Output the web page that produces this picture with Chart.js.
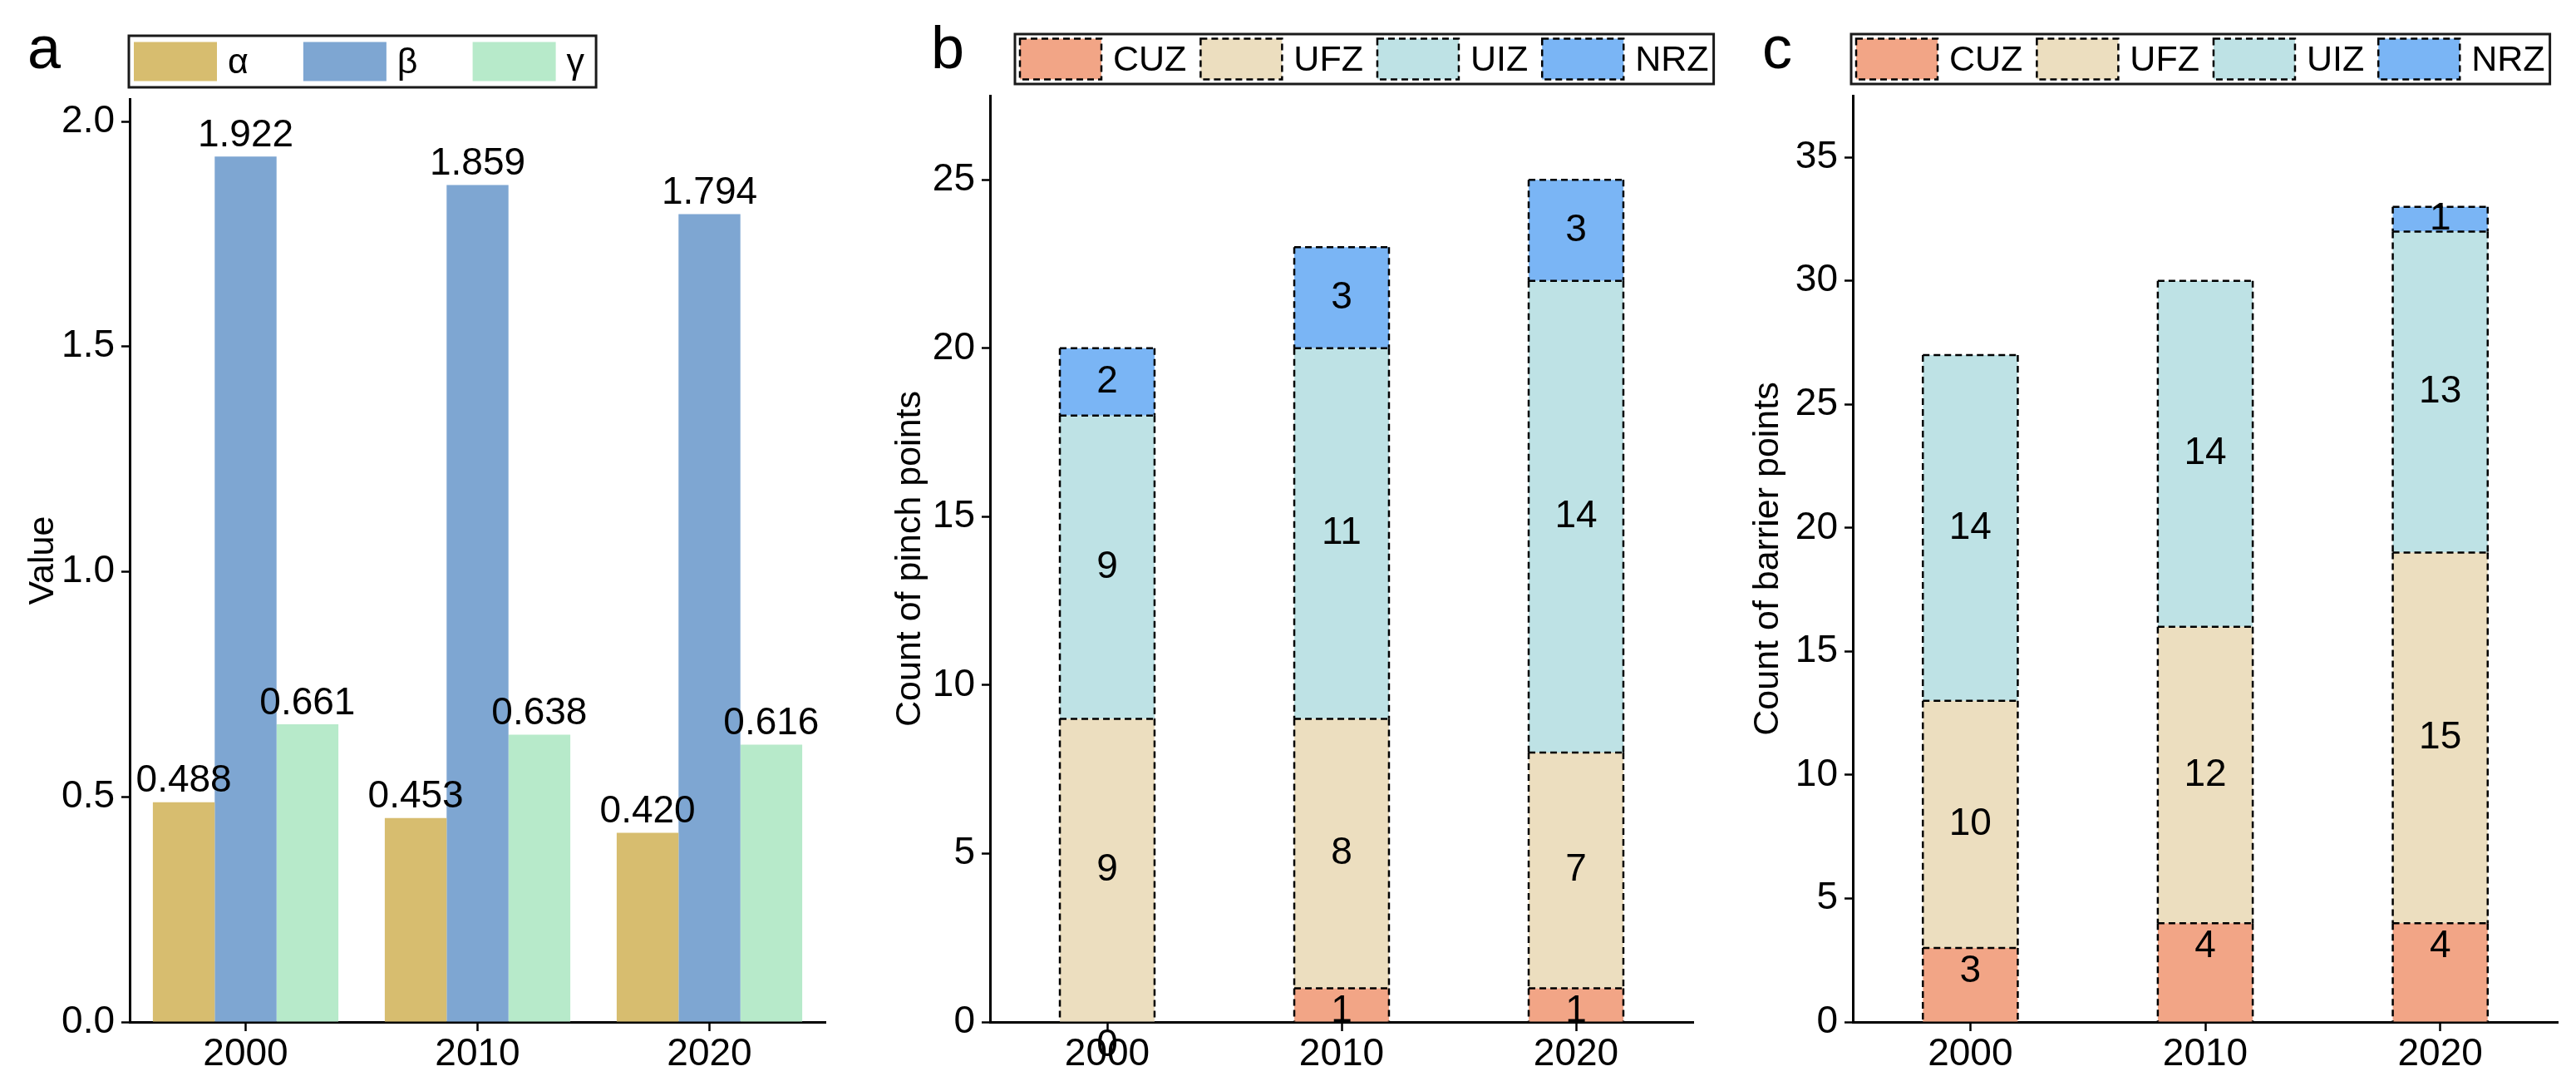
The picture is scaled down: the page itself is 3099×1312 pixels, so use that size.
<!DOCTYPE html>
<html>
<head>
<meta charset="utf-8">
<title>Index values, pinch points and barrier points</title>
<script src="https://cdn.jsdelivr.net/npm/chart.js"></script>
<style>
  body { margin: 0; background: #fff; }
  #wrap { position: relative; width: 3099px; height: 1312px; }
  canvas { position: absolute; top: 0; }
</style>
</head>
<body>
<div id="wrap">
  <canvas id="chartA" width="1040" height="1312" style="left:0"></canvas>
  <canvas id="chartB" width="1040" height="1312" style="left:1040px"></canvas>
  <canvas id="chartC" width="1019" height="1312" style="left:2080px"></canvas>
</div>

<script>
const FONT = '"Liberation Sans", Arial, Helvetica, sans-serif';
Chart.defaults.font.family = FONT;
Chart.defaults.color = '#000';
Chart.defaults.animation = false;
Chart.defaults.plugins.legend.display = false;
Chart.defaults.plugins.tooltip.enabled = false;

const years = ['2000', '2010', '2020'];

// panel a
const indexNames = ['α', 'β', 'γ'];
const alphaValues = [0.488, 0.453, 0.420];
const betaValues = [1.922, 1.859, 1.794];
const gammaValues = [0.661, 0.638, 0.616];
const indexColors = ['#D7BD6F', '#7EA6D2', '#B7EACA'];

// panels b and c
const zoneNames = ['CUZ', 'UFZ', 'UIZ', 'NRZ'];
const zoneColors = ['#F2A586', '#ECDEBF', '#BEE2E5', '#7AB5F5'];
const pinchCUZ = [0, 1, 1];
const pinchUFZ = [9, 8, 7];
const pinchUIZ = [9, 11, 14];
const pinchNRZ = [2, 3, 3];
const barrierCUZ = [3, 4, 4];
const barrierUFZ = [10, 12, 15];
const barrierUIZ = [14, 14, 13];
const barrierNRZ = [0, 0, 1];

// big letter in the corner of each panel
const panelLetter = {
  id: 'panelLetter',
  afterDraw(chart, args, o) {
    const ctx = chart.ctx;
    ctx.save();
    ctx.font = o.size + 'px ' + FONT;
    ctx.fillStyle = '#000';
    ctx.textAlign = 'center';
    ctx.textBaseline = 'alphabetic';
    ctx.fillText(o.text, o.x, o.y);
    ctx.restore();
  }
};

// legend in a black frame, one row
const boxLegend = {
  id: 'boxLegend',
  afterDraw(chart, args, o) {
    const ctx = chart.ctx;
    ctx.save();
    ctx.font = o.fontSize + 'px ' + FONT;
    let x = o.x + o.padLeft;
    const sy = o.y + (o.h - o.swatchH) / 2;
    chart.data.datasets.forEach(ds => {
      ctx.fillStyle = ds.backgroundColor;
      ctx.fillRect(x, sy, o.swatchW, o.swatchH);
      if (o.dashed) {
        ctx.setLineDash([8, 5]);
        ctx.lineWidth = 2.5;
        ctx.strokeStyle = '#000';
        ctx.strokeRect(x, sy, o.swatchW, o.swatchH);
        ctx.setLineDash([]);
      }
      const tx = x + o.swatchW + o.textGap;
      ctx.fillStyle = '#000';
      ctx.textAlign = 'left';
      ctx.textBaseline = 'middle';
      ctx.fillText(ds.label, tx, o.y + o.h / 2 + 2);
      x = tx + ctx.measureText(ds.label).width + o.itemGap;
    });
    const right = x - o.itemGap + o.padRight;
    ctx.lineWidth = 3;
    ctx.strokeStyle = '#1a1a1a';
    ctx.strokeRect(o.x, o.y, right - o.x, o.h);
    ctx.restore();
  }
};

// dashed black outline on every stacked segment
const dashedBars = {
  id: 'dashedBars',
  afterDatasetsDraw(chart) {
    const ctx = chart.ctx;
    ctx.save();
    ctx.setLineDash([8, 5]);
    ctx.lineWidth = 2.5;
    ctx.strokeStyle = '#000';
    chart.data.datasets.forEach((ds, i) => {
      chart.getDatasetMeta(i).data.forEach(bar => {
        const p = bar.getProps(['x', 'y', 'base', 'width'], true);
        const top = Math.min(p.y, p.base), bot = Math.max(p.y, p.base);
        if (bot - top < 0.5) return;
        const l = p.x - p.width / 2, r = p.x + p.width / 2;
        ctx.beginPath();
        ctx.moveTo(l, top); ctx.lineTo(r, top);
        ctx.moveTo(l, top); ctx.lineTo(l, bot);
        ctx.moveTo(r, top); ctx.lineTo(r, bot);
        ctx.stroke();
      });
    });
    ctx.restore();
  }
};

// value labels: above the bar (a) or inside the segment (b, c)
const barValues = {
  id: 'barValues',
  afterDatasetsDraw(chart, args, o) {
    const ctx = chart.ctx;
    ctx.save();
    ctx.font = o.size + 'px ' + FONT;
    ctx.fillStyle = '#000';
    ctx.textAlign = 'center';
    chart.data.datasets.forEach((ds, i) => {
      chart.getDatasetMeta(i).data.forEach((bar, j) => {
        const v = ds.data[j];
        if (o.hideZero && v === 0) return;
        const p = bar.getProps(['x', 'y', 'base'], true);
        const txt = o.digits != null ? v.toFixed(o.digits) : String(v);
        if (o.mode === 'top') {
          ctx.textBaseline = 'bottom';
          ctx.fillText(txt, p.x, p.y - 2);
        } else {
          ctx.textBaseline = 'middle';
          const top = Math.min(p.y, p.base);
          // the bottom zone's label hangs from the top of its segment
          const cy = i === 0 ? top + 28 : (p.y + p.base) / 2;
          ctx.fillText(txt, p.x, cy);
        }
      });
    });
    ctx.restore();
  }
};

function axisX() {
  return {
    afterFit: s => { s.height = 83; },
    border: { color: '#000', width: 3 },
    grid: { drawOnChartArea: false, offset: false, tickLength: 11, tickWidth: 2.5, tickColor: '#000' },
    ticks: { font: { size: 46 }, color: '#000', padding: 1 }
  };
}

function axisY(width, max, step, title, titlePad, fmt) {
  return {
    min: 0,
    max: max,
    afterFit: s => { s.width = width; },
    border: { color: '#000', width: 3 },
    grid: { drawOnChartArea: false, tickLength: 10, tickWidth: 2.5, tickColor: '#000' },
    ticks: { stepSize: step, includeBounds: false, font: { size: 46 }, color: '#000', padding: 8, callback: fmt },
    title: { display: true, text: title, font: { size: 43 }, color: '#000', padding: { top: titlePad, bottom: 0 } }
  };
}

// a: grouped bars
new Chart(document.getElementById('chartA'), {
  type: 'bar',
  data: {
    labels: years,
    datasets: [
      { label: indexNames[0], data: alphaValues, backgroundColor: indexColors[0] },
      { label: indexNames[1], data: betaValues, backgroundColor: indexColors[1] },
      { label: indexNames[2], data: gammaValues, backgroundColor: indexColors[2] }
    ]
  },
  options: {
    responsive: false,
    layout: { padding: { left: 0, right: 47, top: 119, bottom: 0 } },
    datasets: { bar: { barPercentage: 1, categoryPercentage: 0.8, borderWidth: 0 } },
    scales: {
      x: axisX(),
      y: axisY(156, 2.05, 0.5, 'Value', 26, v => v.toFixed(1))
    },
    plugins: {
      panelLetter: { text: 'a', x: 53, y: 82, size: 72 },
      boxLegend: { x: 155, y: 43, h: 62, swatchW: 100, swatchH: 47, textGap: 13, itemGap: 66, padLeft: 6, padRight: 14, fontSize: 43, dashed: false },
      barValues: { mode: 'top', digits: 3, size: 46 }
    }
  },
  plugins: [panelLetter, boxLegend, barValues]
});

function stackedChart(id, series, yWidth, yMax, yTitle, titlePad, padRight, letter, legendX, hideZero) {
  return new Chart(document.getElementById(id), {
    type: 'bar',
    data: {
      labels: years,
      datasets: series.map((s, i) => ({ label: zoneNames[i], data: s, backgroundColor: zoneColors[i] }))
    },
    options: {
      responsive: false,
      layout: { padding: { left: 0, right: padRight, top: 115, bottom: 0 } },
      datasets: { bar: { barPercentage: 1, categoryPercentage: 0.404, borderWidth: 0 } },
      scales: {
        x: Object.assign(axisX(), { stacked: true }),
        y: Object.assign(axisY(yWidth, yMax, 5, yTitle, titlePad, v => v), { stacked: true })
      },
      plugins: {
        panelLetter: letter,
        boxLegend: { x: legendX, y: 41, h: 60, swatchW: 98, swatchH: 49, textGap: 14, itemGap: 17, padLeft: 6, padRight: 6, fontSize: 43, dashed: true },
        barValues: { mode: 'center', size: 46, hideZero: hideZero }
      }
    },
    plugins: [dashedBars, panelLetter, boxLegend, barValues]
  });
}

// b: pinch points
stackedChart('chartB', [pinchCUZ, pinchUFZ, pinchUIZ, pinchNRZ], 151, 27.5,
  'Count of pinch points', 29, 43, { text: 'b', x: 100, y: 82, size: 72 }, 181, false);

// c: barrier points
stackedChart('chartC', [barrierCUZ, barrierUFZ, barrierUIZ, barrierNRZ], 149, 37.5,
  'Count of barrier points', 21, 22, { text: 'c', x: 58, y: 82, size: 72 }, 147, true);
</script>
</body>
</html>
